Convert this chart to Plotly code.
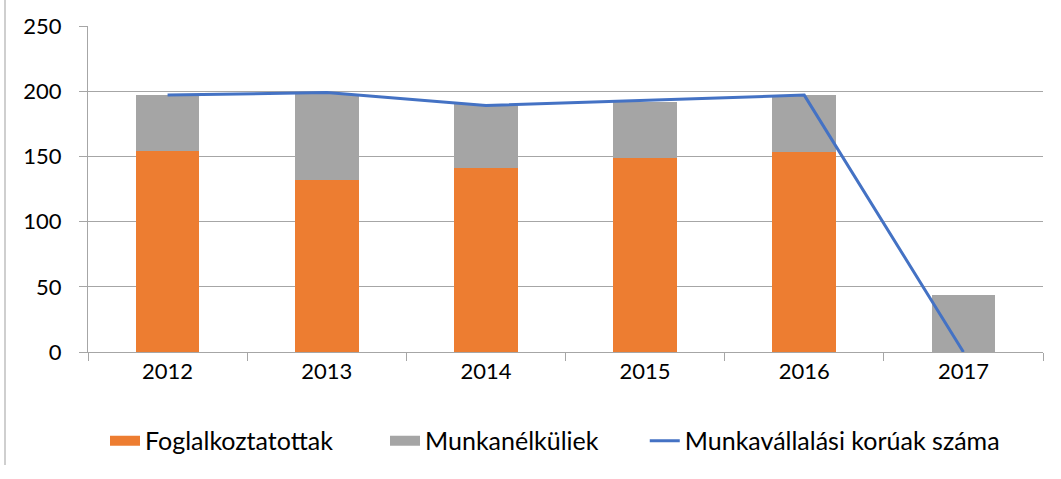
import plotly.graph_objects as go

years = ["2012", "2013", "2014", "2015", "2016", "2017"]
foglalkoztatottak = [154, 132, 141, 149, 153, 0]
munkanelkuliek = [43, 66, 49, 43, 44, 44]
munkavallalasi = [197, 199, 189, 193, 197, 0]
y_ticks = [0, 50, 100, 150, 200, 250]

font = "Lato"
grid = "#a6a6a6"
c_orange = "#ED7D31"
c_gray = "#A5A5A5"
c_blue = "#4472C4"

fig = go.Figure()
fig.add_trace(go.Bar(x=years, y=foglalkoztatottak, name="Foglalkoztatottak",
                     marker=dict(color=c_orange, line=dict(width=0)), showlegend=False))
fig.add_trace(go.Bar(x=years, y=munkanelkuliek, name="Munkanélküliek",
                     marker=dict(color=c_gray, line=dict(width=0)), showlegend=False))
fig.add_trace(go.Scatter(x=years, y=munkavallalasi, name="Munkavállalási korúak száma",
                         mode="lines", line=dict(color=c_blue, width=3),
                         legend="legend3"))
# legend-only entries with wide rectangular swatches for the bar series
fig.add_trace(go.Scatter(x=[None], y=[None], name="Foglalkoztatottak", mode="lines",
                         line=dict(color=c_orange, width=14), legend="legend"))
fig.add_trace(go.Scatter(x=[None], y=[None], name="Munkanélküliek", mode="lines",
                         line=dict(color=c_gray, width=14), legend="legend2"))

leg_common = dict(orientation="h", y=-0.273, yanchor="middle", xanchor="left",
                  font=dict(size=25), bgcolor="rgba(0,0,0,0)")
fig.update_layout(
    barmode="stack", bargap=0.6,
    width=1061, height=479,
    margin=dict(l=88, r=18, t=26, b=127),
    paper_bgcolor="white", plot_bgcolor="white",
    font=dict(family=font, size=22, color="#000000"),
    showlegend=True,
    legend=dict(x=0.0178, **leg_common),
    legend2=dict(x=0.311, **leg_common),
    legend3=dict(x=0.583, **leg_common),
    xaxis=dict(showgrid=False, showline=True, linecolor=grid, linewidth=1,
               ticks="outside", tickson="boundaries", ticklen=8, tickcolor=grid,
               tickfont=dict(size=22)),
    yaxis=dict(range=[0, 250], tickvals=y_ticks, showgrid=True, gridcolor=grid,
               gridwidth=1, showline=True, linecolor=grid, linewidth=1,
               ticks="outside", ticklen=8, tickcolor=grid, zeroline=False,
               tickfont=dict(size=22), ticklabelstandoff=13),
)
fig.add_shape(type="line", xref="paper", yref="paper",
              x0=-83/955, x1=-83/955, y0=-113/326, y1=1 + 26/326,
              line=dict(color="#bfbfbf", width=1.5))

fig.write_html("out.html", config={"displayModeBar": False})
with open("out.html", "r", encoding="utf-8") as f:
    html = f.read()
html = html.replace("<body>", '<body style="margin:0;padding:0;">', 1)
with open("out.html", "w", encoding="utf-8") as f:
    f.write(html)
